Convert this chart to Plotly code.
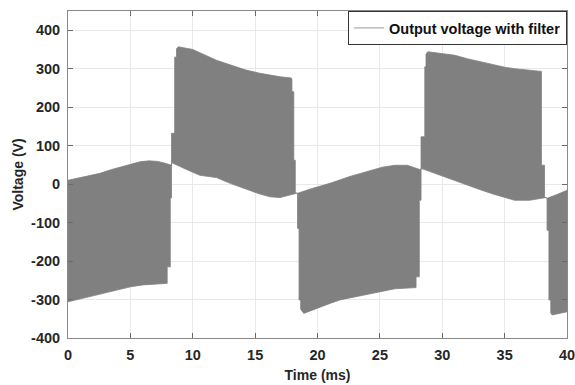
import plotly.graph_objects as go

# Envelope of the switching waveform (time in ms, voltage in V)
# Upper boundary of the shaded (high-frequency) waveform
upper_t = [0, 1, 2, 2.56, 3.5, 4.7, 5.76, 6.5, 7.2, 7.8, 8.3,
           8.3, 8.55, 8.55, 8.7, 8.7, 8.85,
           10, 11, 11.9, 13, 14.2, 15.4, 16.2, 17.0, 17.9,
           17.95, 17.95, 18.1, 18.1, 18.22, 18.22,
           18.4, 19.5, 21, 22.6, 24, 25.2, 26.2, 27.2, 28.3,
           28.3, 28.6, 28.6, 28.7, 28.7, 28.85,
           30, 31, 32, 33, 34, 35, 35.8, 37, 37.8,
           37.95, 37.95, 38.2, 38.2,
           38.4, 39.2, 40]
upper_v = [10, 17, 24, 28, 38, 49, 58, 60.5, 59, 54, 49,
           132, 132, 330, 330, 352, 357,
           350, 336, 322, 310, 297, 288, 283, 279, 276,
           272, 240, 240, 62, 62, -22,
           -24, -12, 2, 20, 34, 44, 49, 49, 37,
           123, 123, 305, 305, 338, 344,
           340, 335, 326, 318, 310, 304, 300, 297, 295,
           293, 49, 49, -33,
           -37, -27, -16]

# Lower boundary of the shaded waveform
lower_t = [0, 1, 2, 3, 4, 5, 6, 7, 7.95,
           7.95, 8.2, 8.2, 8.3, 8.3,
           9.5, 10.56, 11.9, 13, 14.2, 15.4, 16.2, 17, 17.8, 18.3,
           18.4, 18.4, 18.52, 18.52, 18.65, 18.65,
           18.9, 20, 21, 21.8, 23, 25, 26.2, 27.9,
           27.9, 28.16, 28.16, 28.3, 28.3,
           29.5, 30.96, 32, 33, 34, 35, 35.8, 37, 37.8, 38.3,
           38.4, 38.4, 38.55, 38.55, 38.7, 38.7,
           38.8, 39.4, 40]
lower_v = [-306, -298, -290, -283, -275, -267, -262, -259, -258,
           -215, -215, -36, -36, 56,
           38, 23, 17, 2, -12, -26, -33, -35, -28, -24,
           -24, -115, -115, -301, -301, -325,
           -336, -322, -310, -301, -292, -280, -272, -269,
           -241, -241, -42, -42, 41,
           28, 10, -2, -14, -25, -35, -42, -42, -38, -35,
           -37, -120, -120, -301, -301, -335,
           -340, -337, -332]

x_ticks = [0, 5, 10, 15, 20, 25, 30, 35, 40]
y_ticks = [-400, -300, -200, -100, 0, 100, 200, 300, 400]
series_name = "Output voltage with filter"

GRAY = "#808080"
FONT = "Liberation Sans, Arial, sans-serif"

poly_x = list(upper_t) + list(reversed(lower_t))
poly_y = list(upper_v) + list(reversed(lower_v))

fig = go.Figure()
fig.add_trace(go.Scatter(
    x=poly_x, y=poly_y, mode="lines", fill="toself",
    fillcolor=GRAY, line=dict(color=GRAY, width=0.8),
    showlegend=False, hoverinfo="skip"))
fig.add_trace(go.Scatter(
    x=[None], y=[None], mode="lines", name=series_name,
    line=dict(color="#9a9a9a", width=1)))

axis_common = dict(
    showgrid=True, gridcolor="#e9e9e9", gridwidth=1,
    showline=True, linecolor="#8a8a8a", linewidth=1, mirror="ticks",
    ticks="inside", ticklen=5, tickcolor="#6a6a6a", tickwidth=1,
    zeroline=False, ticklabeloverflow="allow", automargin=False,
    tickfont=dict(family=FONT, size=14.5, color="#262626", weight="bold"),
)

fig.update_xaxes(
    range=[0, 40], tickvals=x_ticks, ticktext=[str(v) for v in x_ticks],
    title=dict(text="<b>Time (ms)</b>", font=dict(family=FONT, size=14, color="#262626"), standoff=7),
    ticklabelstandoff=4,
    **axis_common)
fig.update_yaxes(
    range=[-400, 450], tickvals=y_ticks, ticktext=[str(v) for v in y_ticks],
    title=dict(text="<b>Voltage (V)</b>", font=dict(family=FONT, size=14, color="#262626"), standoff=4),
    ticklabelstandoff=4,
    **axis_common)

fig.update_layout(
    width=575, height=385,
    margin=dict(l=68, r=8, t=11, b=47, pad=0),
    plot_bgcolor="white", paper_bgcolor="white",
    font=dict(family=FONT, size=14, color="#262626"),
    showlegend=True,
    legend=dict(
        x=1, y=1, xanchor="right", yanchor="top",
        bgcolor="white", bordercolor="#333333", borderwidth=1,
        font=dict(family=FONT, size=14.5, color="#111111", weight="bold"),
        itemwidth=30, tracegroupgap=0,
    ),
)

fig.write_html(
    "out.html",
    config={"displayModeBar": False},
    post_script="document.body.style.margin='0';document.body.style.padding='0';",
)
